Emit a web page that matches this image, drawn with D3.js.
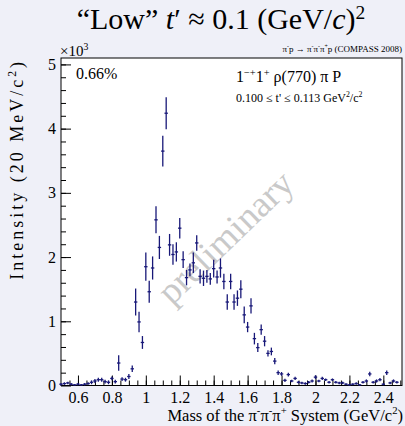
<!DOCTYPE html>
<html>
<head>
<meta charset="UTF-8">
<style>
  body { margin: 0; background: #eff0f8; }
  svg { display: block; font-family: "Liberation Serif", "Times New Roman", serif; }
</style>
</head>
<body>
<svg></svg>
<script src="https://d3js.org/d3.v7.min.js"></script>
<script>

let width = 405, height = 426;

// bin centres, GeV/c^2 (20 MeV/c^2 bins)
let massBins = [0.50,0.52,0.54,0.56,0.58,0.60,0.62,0.64,0.66,0.68,
  0.70,0.72,0.74,0.76,0.78,0.80,0.82,0.84,0.86,0.88,
  0.90,0.92,0.94,0.96,0.98,1.00,1.02,1.04,1.06,1.08,
  1.10,1.12,1.14,1.16,1.18,1.20,1.22,1.24,1.26,1.28,
  1.30,1.32,1.34,1.36,1.38,1.40,1.42,1.44,1.46,1.48,
  1.50,1.52,1.54,1.56,1.58,1.60,1.62,1.64,1.66,1.68,
  1.70,1.72,1.74,1.76,1.78,1.80,1.82,1.84,1.86,1.88,
  1.90,1.92,1.94,1.96,1.98,2.00,2.02,2.04,2.06,2.08,
  2.10,2.12,2.14,2.16,2.18,2.20,2.22,2.24,2.26,2.28,
  2.30,2.32,2.34,2.36,2.38,2.40,2.42,2.44,2.46,2.48];

// intensity in units of 10^3
let intensity = [0.02,0.03,0.04,0.02,0.01,0.02,0.01,0.02,0.03,0.05,
  0.07,0.09,0.09,0.06,0.05,0.11,0.06,0.35,0.10,0.09,
  0.14,0.26,1.30,0.99,0.67,1.85,1.46,1.83,2.58,2.15,
  3.65,4.24,2.19,2.04,2.08,2.45,1.96,1.68,1.80,1.91,
  2.22,1.70,1.67,1.70,1.66,1.82,1.69,1.83,1.62,1.30,
  1.62,1.30,1.36,1.50,1.10,0.91,1.24,0.73,0.59,0.87,
  0.69,0.50,0.53,0.38,0.20,0.18,0.08,0.17,0.07,0.11,
  0.05,0.04,0.03,0.05,0.07,0.13,0.07,0.11,0.09,0.05,
  0.09,0.05,0.04,0.04,0.02,0.01,0.02,0.03,0.01,0.05,
  0.07,0.18,0.05,0.07,0.09,0.02,0.20,0.04,0.07,0.05];

let errors = [0.02,0.02,0.02,0.02,0.01,0.02,0.01,0.02,0.02,0.03,
  0.03,0.03,0.03,0.03,0.03,0.03,0.03,0.12,0.03,0.03,
  0.04,0.05,0.21,0.16,0.10,0.22,0.17,0.18,0.21,0.18,
  0.24,0.25,0.17,0.16,0.15,0.16,0.13,0.12,0.10,0.16,
  0.12,0.11,0.12,0.10,0.09,0.14,0.10,0.15,0.12,0.12,
  0.12,0.12,0.12,0.14,0.13,0.08,0.12,0.09,0.07,0.08,
  0.08,0.05,0.06,0.05,0.035,0.03,0.025,0.03,0.02,0.025,
  0.02,0.02,0.02,0.02,0.025,0.03,0.02,0.025,0.02,0.02,
  0.02,0.02,0.02,0.02,0.015,0.01,0.015,0.02,0.01,0.02,
  0.025,0.035,0.02,0.025,0.025,0.015,0.035,0.02,0.025,0.02];

let xTicks = [0.6, 0.8, 1, 1.2, 1.4, 1.6, 1.8, 2, 2.2, 2.4];
let yTicks = [0, 1, 2, 3, 4, 5];

let svg = d3.select("svg")
    .attr("width", width)
    .attr("height", height);

let x = d3.scaleLinear().domain([0.5, 2.51]).range([61, 402]);
let y = d3.scaleLinear().domain([0, 5.1]).range([385.5, 58]);

// ROOT-ish rich text: parts are [text, "sup"|"it"]
function rich(sel, parts, size, up) {
  up = up || 0.4;
  let back = 0;
  parts.forEach(p => {
    let t = sel.append("tspan").text(p[0]);
    let dy = back;
    back = 0;
    if (p[1] == "sup") {
      t.attr("font-size", size * 0.65);
      dy -= size * up;
      back = size * up;
    }
    if (dy) t.attr("dy", dy);
    if (p[1] == "it") t.attr("font-style", "italic");
  });
  return sel;
}

// title
rich(svg.append("text")
    .attr("x", 221).attr("y", 29)
    .attr("text-anchor", "middle")
    .attr("font-size", 30),
  [["\u201cLow\u201d "], ["t", "it"], ["\u2032 \u2248 0.1 (GeV/"], ["c", "it"], [")"], ["2", "sup"]], 30, 0.33);

// plot frame
svg.append("rect")
    .attr("x", 61).attr("y", 58)
    .attr("width", 341).attr("height", 327.5)
    .attr("fill", "white")
    .attr("stroke", "black")
    .attr("stroke-width", 1);

// watermark
svg.append("text")
    .attr("transform", "translate(228,240) rotate(-44)")
    .attr("text-anchor", "middle")
    .attr("dominant-baseline", "middle")
    .attr("font-size", 37)
    .attr("fill", "#c9c9c9")
    .text("preliminary");

// axes, ticks drawn inward
svg.append("g")
    .attr("transform", "translate(0,385.5)")
    .call(d3.axisBottom(x).tickValues(d3.range(0.55, 2.51, 0.05)).tickSize(-5).tickFormat(""));
svg.append("g")
    .attr("transform", "translate(0,385.5)")
    .call(d3.axisBottom(x).tickValues(xTicks).tickSize(-10).tickPadding(6).tickFormat(d3.format("")));
svg.append("g")
    .attr("transform", "translate(61,0)")
    .call(d3.axisLeft(y).tickValues(d3.range(0.2, 5.1, 0.2)).tickSize(-5).tickFormat(""));
svg.append("g")
    .attr("transform", "translate(61,0)")
    .call(d3.axisLeft(y).tickValues(yTicks).tickSize(-10).tickPadding(5).tickFormat(d3.format("d")));

svg.selectAll(".domain").remove();
svg.selectAll(".tick text").filter(function() { return this.textContent == ""; }).remove();
svg.selectAll(".tick text")
    .attr("font-family", "'Liberation Serif', serif")
    .attr("font-size", 16)
    .attr("fill", "black");

// data points with error bars
let pts = svg.append("g")
    .attr("stroke", "#181878")
    .attr("stroke-width", 1.3);

massBins.forEach((m, i) => {
  let v = intensity[i], e = errors[i];
  pts.append("line")
      .attr("x1", x(m)).attr("x2", x(m))
      .attr("y1", y(Math.max(0, v - e))).attr("y2", y(v + e));
  pts.append("line")
      .attr("x1", x(m - 0.01)).attr("x2", x(m + 0.01))
      .attr("y1", y(v)).attr("y2", y(v));
});

// texts
rich(svg.append("text").attr("x", 60).attr("y", 56).attr("font-size", 15),
  [["\u00d710"], ["3", "sup"]], 15);

rich(svg.append("text").attr("x", 402).attr("y", 52).attr("text-anchor", "end").attr("font-size", 9),
  [["\u03c0"], ["-", "sup"], ["p \u2192 \u03c0"], ["-", "sup"], ["\u03c0"], ["-", "sup"], ["\u03c0"], ["+", "sup"], ["p (COMPASS 2008)"]], 9);

svg.append("text").attr("x", 76).attr("y", 79).attr("font-size", 16).text("0.66%");

rich(svg.append("text").attr("x", 236).attr("y", 82).attr("font-size", 16),
  [["1"], ["\u2212+", "sup"], ["1"], ["+", "sup"], [" \u03c1(770) \u03c0 P"]], 16);

rich(svg.append("text").attr("x", 236).attr("y", 102).attr("font-size", 12),
  [["0.100 \u2264 t' \u2264 0.113 GeV"], ["2", "sup"], ["/c"], ["2", "sup"]], 12);

rich(svg.append("text").attr("x", 403).attr("y", 421).attr("text-anchor", "end").attr("font-size", 16.5),
  [["Mass of the \u03c0"], ["-", "sup"], ["\u03c0"], ["-", "sup"], ["\u03c0"], ["+", "sup"], [" System (GeV/c"], ["2", "sup"], [")"]], 16.5);

rich(svg.append("text").attr("transform", "translate(23,59) rotate(-90)").attr("text-anchor", "end")
    .attr("font-size", 18).attr("letter-spacing", 3),
  [["Intensity (20 MeV/c"], ["2", "sup"], [")"]], 18);

</script>
</body>
</html>
